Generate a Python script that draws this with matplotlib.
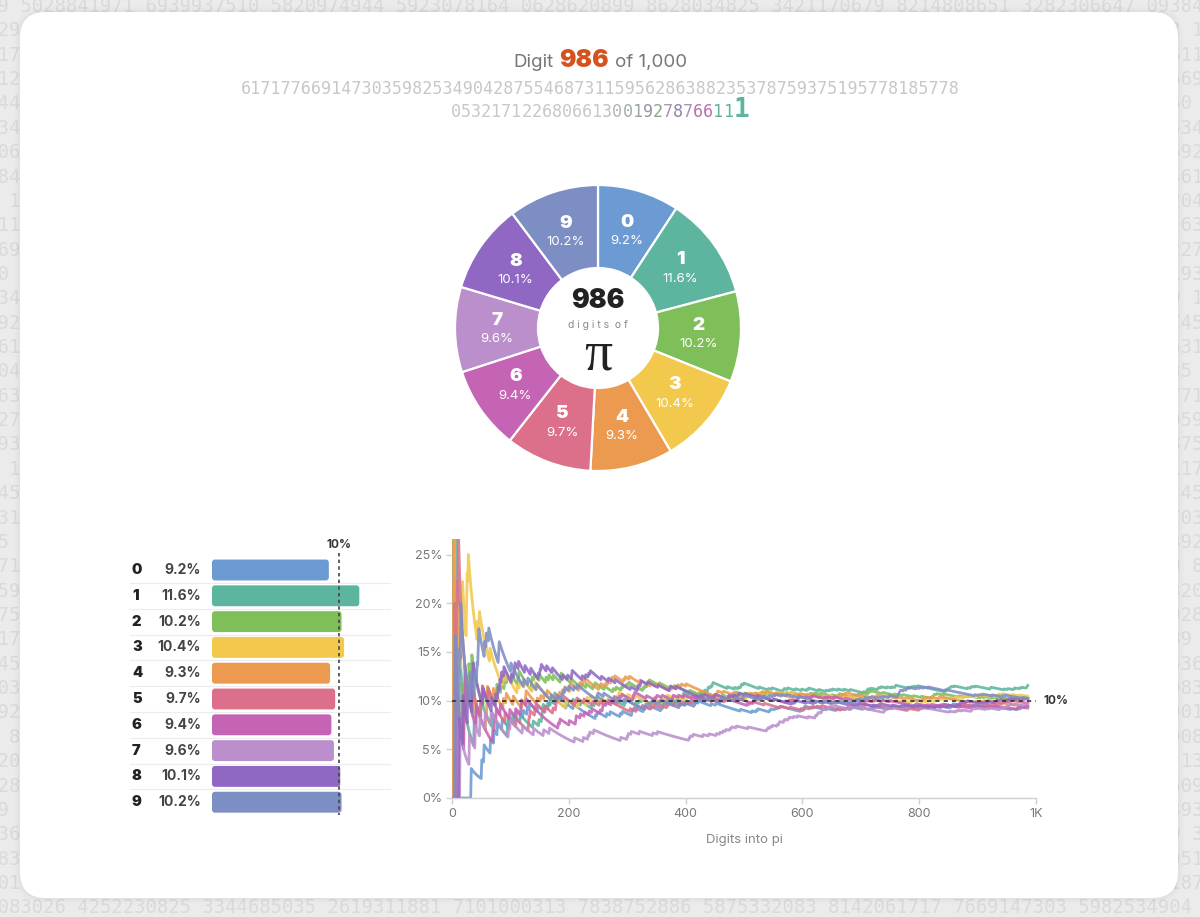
import matplotlib
matplotlib.use("Agg")
import matplotlib.pyplot as plt
import numpy as np
from matplotlib.patches import FancyBboxPatch
from matplotlib.colors import to_rgb

# ---------------- data ----------------
PI_DECIMALS = "".join([
    "14159265358979323846264338327950288419716939937510",
    "58209749445923078164062862089986280348253421170679",
    "82148086513282306647093844609550582231725359408128",
    "48111745028410270193852110555964462294895493038196",
    "44288109756659334461284756482337867831652712019091",
    "45648566923460348610454326648213393607260249141273",
    "72458700660631558817488152092096282925409171536436",
    "78925903600113305305488204665213841469519415116094",
    "33057270365759591953092186117381932611793105118548",
    "07446237996274956735188575272489122793818301194912",
    "98336733624406566430860213949463952247371907021798",
    "60943702770539217176293176752384674818467669405132",
    "00056812714526356082778577134275778960917363717872",
    "14684409012249534301465495853710507922796892589235",
    "42019956112129021960864034418159813629774771309960",
    "51870721134999999837297804995105973173281609631859",
    "50244594553469083026425223082533446850352619311881",
    "71010003137838752886587533208381420617177669147303",
    "59825349042875546873115956286388235378759375195778",
    "18577805321712268066130019278766111959092164201989",
])
N_SHOWN = 986
N_TOTAL = 1000
DIGITS = list(range(10))
PCT = [9.2, 11.6, 10.2, 10.4, 9.3, 9.7, 9.4, 9.6, 10.1, 10.2]
COLORS = ["#6b9bd2", "#5db5a0", "#7fbf5a", "#f2c94c", "#ec9a4f",
          "#dc708a", "#c563b5", "#bb8fcc", "#9068c4", "#7d8ec4"]
Y_TICKS = [0, 5, 10, 15, 20, 25]
Y_TICK_LABELS = ["0%", "5%", "10%", "15%", "20%", "25%"]
X_TICKS = [0, 200, 400, 600, 800, 1000]
X_TICK_LABELS = ["0", "200", "400", "600", "800", "1K"]
REFERENCE_PCT = 10

SHOWN = "3" + PI_DECIMALS[:N_SHOWN - 1]   # first 986 digits of pi

UI = ["Inter", "DejaVu Sans"]
MONO = "DejaVu Sans Mono"

W, H = 1200, 917
fig = plt.figure(figsize=(W / 100, H / 100), dpi=100)
fig.patch.set_facecolor("#ebebeb")
bg = fig.add_axes([0, 0, 1, 1])
bg.set_xlim(0, W)
bg.set_ylim(H, 0)
bg.axis("off")
bg.set_zorder(0)

# ---------------- background digit texture ----------------
groups = [PI_DECIMALS[i:i + 10] for i in range(0, len(PI_DECIMALS), 10)]
stream = " ".join(groups) + " "
ROW_LEN = 172
rep = stream * 8
for k in range(38):
    bg.text(-355, 6.5 + 24.36 * k, rep[k * ROW_LEN:(k + 1) * ROW_LEN],
            family=MONO, fontsize=13.6, color="#dadada",
            ha="left", va="center", zorder=0)

# ---------------- card ----------------
for pad, a in [(6, 0.008), (4, 0.012), (2, 0.018)]:
    bg.add_patch(FancyBboxPatch((20 - pad, 12 - pad), 1158 + 2 * pad, 886 + 2 * pad,
                                boxstyle=f"round,pad=0,rounding_size={26 + pad}",
                                fc="black", ec="none", alpha=a, zorder=1))
bg.add_patch(FancyBboxPatch((20, 12), 1158, 886,
                            boxstyle="round,pad=0,rounding_size=26",
                            fc="white", ec="none", zorder=2))

# ---------------- title ----------------
renderer = fig.canvas.get_renderer()


def run_text(pieces, xc, y):
    objs, widths = [], []
    for s, gap, kw in pieces:
        t = bg.text(0, y, s, ha="left", va="baseline", zorder=5, **kw)
        bb = t.get_window_extent(renderer=renderer)
        objs.append(t)
        widths.append(bb.width + gap)
    x = xc - sum(widths) / 2
    for t, w in zip(objs, widths):
        t.set_x(x)
        x += w


run_text([
    ("Digit", 6, dict(family=UI, fontsize=13.5, color="#777777")),
    (str(N_SHOWN), 6, dict(family=UI, fontsize=17.5, fontweight="black", color="#d4531c")),
    (f"of {N_TOTAL:,}", 0, dict(family=UI, fontsize=13.5, color="#777777")),
], 600, 67)

tail = SHOWN[-100:]
line2, line3 = tail[:71], tail[71:]
pitch = 10.1
fs_small = pitch / 0.602 * 0.72
x0 = 600 - len(line2) * pitch / 2 - 1
bg.text(x0, 94, line2, family=MONO, fontsize=fs_small, color="#c8c8c8",
        ha="left", va="baseline", zorder=5)

big_pitch = 15.7
fs_big = big_pitch / 0.602 * 0.72
small3 = line3[:-1]
x0 = 600 - (len(small3) * pitch + big_pitch) / 2
gray = np.array(to_rgb("#c8c8c8"))
mid = np.array(to_rgb("#9a9a9a"))
n_fade = 13
for i, ch in enumerate(small3):
    k = i - (len(small3) - n_fade)
    if k < 0:
        col = gray
    else:
        t = (k + 1) / n_fade
        base = gray * (1 - min(1, 2.5 * t)) + mid * min(1, 2.5 * t)
        dc = np.array(to_rgb(COLORS[int(ch)]))
        w = t ** 1.5
        col = base * (1 - w) + dc * w
    bg.text(x0 + i * pitch, 117, ch, family=MONO, fontsize=fs_small,
            color=tuple(col), ha="left", va="baseline", zorder=5)
bg.text(x0 + len(small3) * pitch, 117, line3[-1], family=MONO, fontsize=fs_big,
        fontweight="bold", color=COLORS[int(line3[-1])],
        ha="left", va="baseline", zorder=5)

# ---------------- donut ----------------
cx, cy = 598, 328
axd = fig.add_axes([(cx - 150) / W, 1 - (cy + 150) / H, 300 / W, 300 / H])
axd.pie(PCT, colors=COLORS, startangle=90, counterclock=False, radius=1.43,
        wedgeprops=dict(width=0.83, edgecolor="white", linewidth=1.6))
axd.set_xlim(-1.5, 1.5)
axd.set_ylim(-1.5, 1.5)
axd.axis("off")
total = sum(PCT)
cum = 0
for d, p in zip(DIGITS, PCT):
    mid_frac = (cum + p / 2) / total
    cum += p
    th = np.deg2rad(90 - mid_frac * 360)
    r = 1.01
    lx, ly = r * np.cos(th), r * np.sin(th)
    axd.text(lx, ly + 0.09, str(d), family=UI, fontsize=13.5, fontweight="black",
             color="white", ha="center", va="center")
    axd.text(lx, ly - 0.10, f"{p:.1f}%", family=UI, fontsize=9.5, color="white",
             ha="center", va="center")
axd.text(0, 0.27, str(N_SHOWN), family=UI, fontsize=19, fontweight="black",
         color="#222222", ha="center", va="center")
axd.text(0, 0.03, "d i g i t s  o f", family=UI, fontsize=7.5, color="#8a8a8a",
         ha="center", va="center")
axd.text(0, -0.27, "π", family=["Liberation Serif", "DejaVu Serif"], fontsize=40,
         color="#222222", ha="center", va="center")

# ---------------- bar chart ----------------
px_per_pct = 12.7
row_h = 25.8
bx0, bx1 = 212, 390
by0 = 557.1
by1 = by0 + 10 * row_h
axb = fig.add_axes([bx0 / W, 1 - by1 / H, (bx1 - bx0) / W, (by1 - by0) / H])
axb.set_xlim(0, (bx1 - bx0) / px_per_pct)
axb.set_ylim(9.5, -0.5)
axb.axis("off")
bars = axb.barh(DIGITS, PCT, height=0.81, color=COLORS)
rs = 3 / px_per_pct
ma = (3 / row_h) / rs
for b, c in zip(bars, COLORS):
    x, y, w, h = b.get_x(), b.get_y(), b.get_width(), b.get_height()
    b.set_visible(False)
    axb.add_patch(FancyBboxPatch((x, y), w, h,
                                 boxstyle=f"round,pad=0,rounding_size={rs}",
                                 mutation_aspect=ma, fc=c, ec="none", zorder=2))
xl = (130 - bx0) / px_per_pct
xr = (390 - bx0) / px_per_pct
for i in range(9):
    axb.plot([xl, xr], [i + 0.5, i + 0.5], color="#ececec", lw=0.8,
             clip_on=False, zorder=1)
for d, p in zip(DIGITS, PCT):
    axb.text((132 - bx0) / px_per_pct, d, str(d), family=UI, fontsize=10.5,
             fontweight="black", color="#222222", ha="left", va="center")
    axb.text((201 - bx0) / px_per_pct, d, f"{p:.1f}%", family=UI, fontsize=10,
             fontweight="bold", color="#444444", ha="right", va="center")
axb.plot([REFERENCE_PCT, REFERENCE_PCT], [-0.5 - 4 / row_h, 9.5], color="#444444",
         lw=1.2, ls=(0, (2, 2)), clip_on=False, zorder=4)
axb.text(REFERENCE_PCT, -0.5 - 12 / row_h, f"{REFERENCE_PCT}%", family=UI,
         fontsize=8.5, fontweight="bold", color="#333333", ha="center", va="center")

# ---------------- line chart ----------------
lx0, lx1, ly0, ly1 = 452, 1036, 539, 798
axl = fig.add_axes([lx0 / W, 1 - ly1 / H, (lx1 - lx0) / W, (ly1 - ly0) / H])
arr = np.array([int(c) for c in SHOWN])
n = np.arange(1, len(arr) + 1)
for d, c in zip(DIGITS, COLORS):
    running = np.cumsum(arr == d) / n * 100
    axl.plot(n, running, color=c, lw=2.0, alpha=0.88, solid_joinstyle="round", zorder=2)
axl.axhline(REFERENCE_PCT, color="#333333", lw=1.2, ls=(0, (2.5, 2.5)), zorder=5)
axl.text(1012, REFERENCE_PCT, f"{REFERENCE_PCT}%", family=UI, fontsize=8.5,
         fontweight="bold", color="#333333", ha="left", va="center", clip_on=False)
axl.set_xlim(0, 1000)
axl.set_ylim(0, 26.6)
axl.set_yticks(Y_TICKS)
axl.set_yticklabels(Y_TICK_LABELS)
axl.set_xticks(X_TICKS)
axl.set_xticklabels(X_TICK_LABELS)
for s in ["top", "right", "left"]:
    axl.spines[s].set_visible(False)
axl.spines["bottom"].set_color("#d0d0d0")
axl.spines["bottom"].set_linewidth(1)
axl.tick_params(axis="both", colors="#d0d0d0", labelcolor="#777777",
                labelsize=9, length=4, width=1, pad=3)
for lab in axl.get_xticklabels() + axl.get_yticklabels():
    lab.set_family(UI)
axl.set_facecolor("none")
axl.text(0.5, -(840 - ly1) / (ly1 - ly0), "Digits into pi", transform=axl.transAxes,
         family=UI, fontsize=9.5, color="#888888", ha="center", va="center")

fig.savefig("out.png", dpi=100, facecolor=fig.get_facecolor())
